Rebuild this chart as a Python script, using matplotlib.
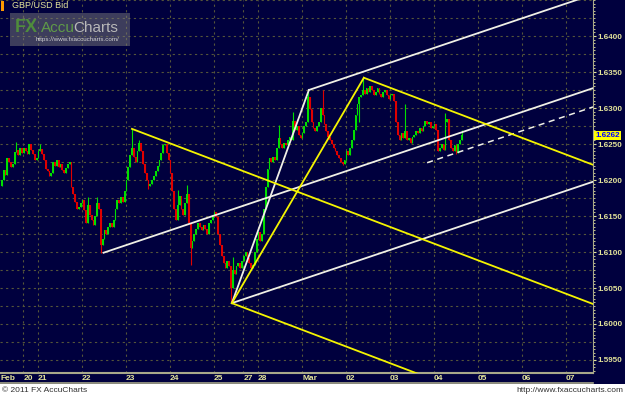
import numpy as np
import matplotlib.pyplot as plt
from matplotlib.patches import Rectangle

# GBP/USD hourly bid, Feb 18 - Mar 04 2011 (closes)
session_bars = [12, 8, 24, 24, 24, 24, 16, 8, 24, 24, 24, 24, 24, 24, 24]
day_labels = ['20', '21', '22', '23', '24', '25', '27', '28', 'Mar',
              '02', '03', '04', '05', '06', '07']

first_open = 1.6192
feb18 = [1.6200, 1.6214, 1.6207, 1.6231, 1.6225, 1.6218, 1.6222, 1.6239, 1.6242, 1.6235, 1.6245, 1.6238]
feb20 = [1.6245, 1.6240, 1.6236, 1.6250, 1.6242, 1.6236, 1.6228, 1.6230]
feb21 = [1.6240, 1.6243, 1.6236, 1.6228, 1.6215, 1.6212, 1.6205, 1.6210, 1.6225, 1.6220, 1.6228, 1.6218,
         1.6222, 1.6214, 1.6210, 1.6216, 1.6222, 1.6225, 1.6190, 1.6180, 1.6170, 1.6160, 1.6163, 1.6168]
feb22 = [1.6172, 1.6158, 1.6140, 1.6165, 1.6152, 1.6145, 1.6138, 1.6150, 1.6168, 1.6160, 1.6110, 1.6118,
         1.6130, 1.6125, 1.6135, 1.6140, 1.6135, 1.6145, 1.6160, 1.6172, 1.6168, 1.6176, 1.6170, 1.6185]
feb23 = [1.6200, 1.6218, 1.6235, 1.6245, 1.6232, 1.6225, 1.6240, 1.6252, 1.6240, 1.6222, 1.6210, 1.6200,
         1.6192, 1.6195, 1.6200, 1.6205, 1.6212, 1.6220, 1.6228, 1.6238, 1.6248, 1.6250, 1.6238, 1.6228]
feb24 = [1.6210, 1.6185, 1.6160, 1.6145, 1.6165, 1.6178, 1.6160, 1.6152, 1.6168, 1.6180, 1.6140, 1.6105,
         1.6115, 1.6125, 1.6132, 1.6140, 1.6135, 1.6130, 1.6138, 1.6132, 1.6125, 1.6140, 1.6145, 1.6152]
feb25 = [1.6155, 1.6148, 1.6125, 1.6110, 1.6095, 1.6085, 1.6078, 1.6088, 1.6080, 1.6050, 1.6075, 1.6070,
         1.6080, 1.6085, 1.6078, 1.6088]
feb27 = [1.6095, 1.6100, 1.6092, 1.6085, 1.6078, 1.6082, 1.6100, 1.6118]
feb28 = [1.6128, 1.6115, 1.6125, 1.6160, 1.6190, 1.6215, 1.6230, 1.6225, 1.6232, 1.6228, 1.6245, 1.6258,
         1.6250, 1.6245, 1.6252, 1.6248, 1.6255, 1.6260, 1.6256, 1.6282, 1.6270, 1.6275, 1.6262, 1.6258]
mar01 = [1.6265, 1.6275, 1.6280, 1.6315, 1.6298, 1.6280, 1.6272, 1.6268, 1.6275, 1.6280, 1.6300, 1.6290,
         1.6278, 1.6268, 1.6260, 1.6255, 1.6250, 1.6245, 1.6240, 1.6235, 1.6230, 1.6225, 1.6222, 1.6228]
mar02 = [1.6240, 1.6235, 1.6245, 1.6255, 1.6270, 1.6290, 1.6305, 1.6315, 1.6318, 1.6325, 1.6320, 1.6328,
         1.6322, 1.6330, 1.6325, 1.6318, 1.6322, 1.6328, 1.6320, 1.6315, 1.6322, 1.6325, 1.6318, 1.6312]
mar03 = [1.6318, 1.6320, 1.6310, 1.6280, 1.6262, 1.6255, 1.6265, 1.6258, 1.6268, 1.6255, 1.6258, 1.6252,
         1.6260, 1.6262, 1.6268, 1.6265, 1.6272, 1.6268, 1.6275, 1.6282, 1.6278, 1.6280, 1.6272, 1.6275]
mar04 = [1.6278, 1.6270, 1.6240, 1.6245, 1.6250, 1.6242, 1.6280, 1.6285, 1.6255, 1.6245, 1.6240, 1.6248,
         1.6238, 1.6250, 1.6255, 1.6262]

# notable wicks beyond the candle bodies
wick_high = {8: 1.6253, 21: 1.6250, 47: 1.6176, 52: 1.6176, 71: 1.6271, 75: 1.6256, 96: 1.6186,
             101: 1.6193, 116: 1.6156, 126: 1.6093, 151: 1.6276, 159: 1.6294, 167: 1.6325,
             175: 1.6325, 197: 1.6342, 220: 1.6305, 242: 1.6293, 251: 1.6270}
wick_low = {54: 1.6099, 80: 1.6188, 103: 1.6082, 125: 1.6029, 186: 1.6221, 195: 1.6280, 248: 1.6236}

# drawing tool anchors (bar, price)
low_a = (55.5, 1.6099)
high_a = (71.0, 1.6271)
low_b = (125.5, 1.6029)
high_b = (167.5, 1.6325)
high_c = (197.5, 1.6342)
dash_start = (232.0, 1.6224)
white_slope = 0.0000856    # price per bar
yellow_slope = -0.0000967
last_price = 1.6262

NAVY = '#00003e'
GREEN = '#00e000'
RED = '#e00000'
PALE = '#e4e49a'
GRID = '#55553a'
WHITE = '#f0f0e6'
YELLOW = '#f4f400'
W, H = 625, 395

plt.rcParams['font.family'] = ['Liberation Sans', 'DejaVu Sans']

close = np.array(feb18 + feb20 + feb21 + feb22 + feb23 + feb24 + feb25 + feb27
                 + feb28 + mar01 + mar02 + mar03 + mar04)
idx = np.arange(len(close))
opn = np.r_[first_open, close[:-1]]
high = np.maximum(opn, close)
low = np.minimum(opn, close)
for k, v in wick_high.items():
    high[k] = max(high[k], v)
for k, v in wick_low.items():
    low[k] = min(low[k], v)
colors = np.where(close >= opn, GREEN, RED)

fig = plt.figure(figsize=(W / 100, H / 100), dpi=100)
fig.patch.set_facecolor('white')
fig.patches.append(Rectangle((0, 1 - 384 / H), 1, 384 / H, transform=fig.transFigure,
                             facecolor=NAVY, edgecolor='none', zorder=-1))

ax = fig.add_axes([0, 1 - 373 / H, 593 / W, 373 / H])
ax.set_facecolor(NAVY)
x_end = 322.5
ax.set_xlim(-1, x_end)
ax.set_ylim(1.6450 - 373 / 7200, 1.6450)

# grid
day_starts = np.cumsum(session_bars) - 0.5
for y in np.arange(1.5950, 1.6450, 0.0025):
    ax.axhline(y, color=GRID, lw=0.8, ls=(0, (2, 3)), zorder=0)
for x in day_starts:
    ax.axvline(x, color=GRID, lw=0.8, ls=(0, (2, 3)), zorder=0)

# candles
ax.vlines(idx, low, high, colors=colors, lw=0.8, zorder=2)
ax.bar(idx, close - opn, bottom=opn, width=0.95, color=colors, linewidth=0, zorder=2)

# channel and pitchfork lines
def ray(p, slope, x1, **kw):
    ax.plot([p[0], x1], [p[1], p[1] + slope * (x1 - p[0])], zorder=3, **kw)

lw = 1.3
ray(low_a, white_slope, x_end, color=WHITE, lw=lw)
ray(high_b, white_slope, x_end, color=WHITE, lw=lw)
ray(low_b, white_slope, x_end, color=WHITE, lw=lw)
ray(dash_start, white_slope, x_end, color=WHITE, lw=1.1, ls=(0, (4, 3)))
ax.plot([low_b[0], high_b[0]], [low_b[1], high_b[1]], color=WHITE, lw=lw, zorder=3)
ray(high_a, yellow_slope, x_end, color=YELLOW, lw=lw)
ray(high_c, yellow_slope, x_end, color=YELLOW, lw=lw)
ray(low_b, yellow_slope, x_end, color=YELLOW, lw=lw)
ax.plot([low_b[0], high_c[0]], [low_b[1], high_c[1]], color=YELLOW, lw=lw, zorder=3)

# axes styling
for s in ['top', 'left']:
    ax.spines[s].set_visible(False)
ax.spines['right'].set_color('#a8a88a')
ax.spines['bottom'].set_color('#a8a88a')
ax.spines['bottom'].set_linewidth(1.5)
ax.yaxis.tick_right()
ax.set_yticks(np.arange(1.5950, 1.6401, 0.005))
ax.set_yticklabels([f'{v:.4f}' for v in np.arange(1.5950, 1.6401, 0.005)])
ax.set_yticks(np.arange(1.5935, 1.6450, 0.0005), minor=True)
ax.tick_params(axis='y', which='major', colors=PALE, labelsize=5.8, length=2.5, pad=1)
ax.tick_params(axis='y', which='minor', colors=PALE, length=1.5)
for t in ax.get_yticklabels():
    t.set_fontweight('bold')
ax.set_xticks(day_starts + 0.3)
ax.set_xticklabels(day_labels, ha='left', fontweight='bold')
ax.tick_params(axis='x', colors=PALE, labelsize=6, length=0, pad=1.5)
ax.text(-0.5, -5 / 373, 'Feb', transform=ax.get_xaxis_transform(), color=PALE,
        fontsize=6, fontweight='bold', va='center', ha='left')

# last price flag
ax.text(1.004, last_price, f'{last_price:.4f}', transform=ax.get_yaxis_transform(),
        color='#0000ff', fontsize=5.8, fontweight='bold', va='center', ha='left',
        bbox=dict(boxstyle='square,pad=0.15', fc='#ffff00', ec='none'), clip_on=False, zorder=6)

# strip border under the dates
fig.add_artist(plt.Line2D([0, 593 / W], [1 - 383 / H] * 2, color='#a8a88a', lw=1.2))

# title and logo
fig.patches.append(Rectangle((1 / W, 1 - 11 / H), 3 / W, 10 / H, transform=fig.transFigure,
                             facecolor='#ff9900', edgecolor='none', zorder=5))
fig.text(12 / W, 1 - 6 / H, 'GBP/USD Bid', color=PALE, fontsize=6.5, va='center')
fig.patches.append(Rectangle((10 / W, 1 - 46 / H), 120 / W, 33 / H, transform=fig.transFigure,
                             facecolor='#7a7a7a', alpha=0.5, edgecolor='none', zorder=5))
fig.text(15 / W, 1 - 28 / H, 'FX', color='#4f8c3c', fontsize=13, fontweight='bold', va='center', zorder=6)
fig.text(41 / W, 1 - 28 / H, 'Accu', color='#5f9a48', fontsize=11, va='center', zorder=6)
fig.text(73 / W, 1 - 28 / H, 'Charts', color='#b8b8b8', fontsize=11, va='center', zorder=6)
fig.text(36 / W, 1 - 40 / H, 'https://www.fxaccucharts.com/', color='#d0d0d0', fontsize=4.5,
         va='center', zorder=6)

# footer
fig.text(2 / W, 1 - 390 / H, '\u00a9 2011 FX AccuCharts', color='#303030', fontsize=6, va='center')
fig.text(623 / W, 1 - 390 / H, 'http://www.fxaccucharts.com', color='#303030', fontsize=6,
         va='center', ha='right')

fig.savefig('out.png', dpi=100, facecolor='white')
